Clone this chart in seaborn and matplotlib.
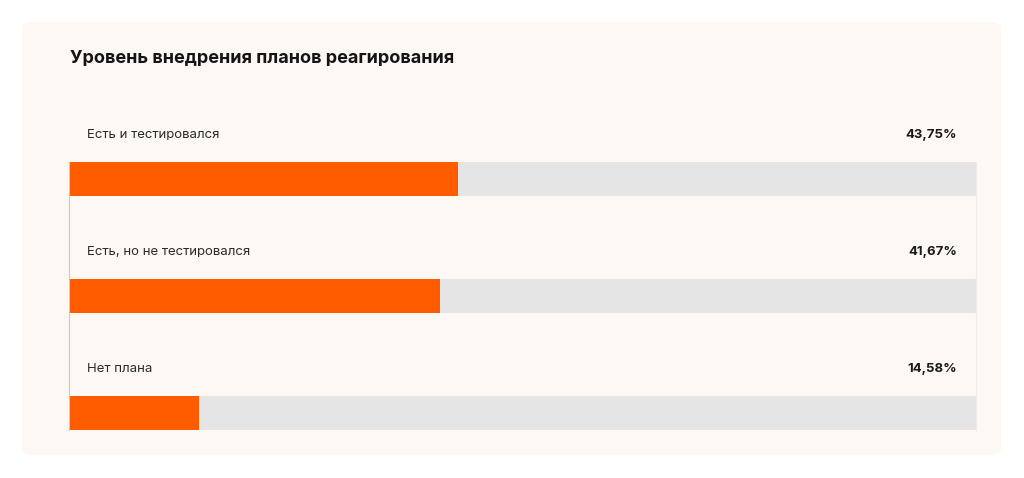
import matplotlib
matplotlib.use("Agg")
import matplotlib.pyplot as plt
import seaborn as sns
import pandas as pd
from matplotlib.patches import FancyBboxPatch

# response plan adoption
title = "Уровень внедрения планов реагирования"
categories = ["Есть и тестировался", "Есть, но не тестировался", "Нет плана"]
shares = [43.75, 41.67, 14.58]
share_labels = ["43,75%", "41,67%", "14,58%"]
scale_max = 102  # the grey track runs a bit past 100 in the original

sns.set_theme(style="white")
plt.rcParams["font.family"] = ["Inter", "DejaVu Sans"]

orange = "#ff5c00"
track_grey = "#e5e5e5"
card_bg = "#fdf8f4"

df = pd.DataFrame({"category": categories, "share": shares,
                   "track": [scale_max] * len(categories)})

fig = plt.figure(figsize=(10.24, 4.78), dpi=100)
fig.patch.set_facecolor("white")

# beige card behind everything
card = FancyBboxPatch((22 / 1024, 1 - 455 / 478), 979 / 1024, 433 / 478,
                      boxstyle="round,pad=0,rounding_size=0.012",
                      transform=fig.transFigure, facecolor=card_bg,
                      edgecolor="none", zorder=-5)
fig.patches.append(card)

ax = fig.add_axes([69 / 1024, 1 - 430 / 478, 907 / 1024, 268 / 478])
ax.set_facecolor("none")
ax.set_zorder(2)

sns.barplot(data=df, x="track", y="category", orient="h", color=track_grey,
            width=0.29, saturation=1, linewidth=0, ax=ax)
sns.barplot(data=df, x="share", y="category", orient="h", color=orange,
            width=0.29, saturation=1, linewidth=0, ax=ax)

ax.set_xlim(0, scale_max)
ax.set_ylim(len(categories) - 1 + 0.145, -0.145)
ax.set_xticks([])
ax.set_yticks([])
ax.set_xlabel("")
ax.set_ylabel("")
for side in ["top", "bottom"]:
    ax.spines[side].set_visible(False)
ax.spines["left"].set_color("#c8c8c8")
ax.spines["left"].set_linewidth(0.8)
ax.spines["right"].set_color("#eeeae6")
ax.spines["right"].set_linewidth(0.8)

# category names above the bars, percentages on the right
for i, (cat, lab) in enumerate(zip(categories, share_labels)):
    ax.text(0.02, i - 0.375, cat, transform=ax.get_yaxis_transform(),
            ha="left", va="center", fontsize=9.5, color="#2b2b2b")
    ax.text(0.979, i - 0.375, lab, transform=ax.get_yaxis_transform(),
            ha="right", va="center", fontsize=9.5, fontweight="bold",
            color="#1a1a1a")

fig.text(70 / 1024, 1 - 58 / 478, title, ha="left", va="center",
         fontsize=13, fontweight="bold", color="#141414")

fig.savefig("out.png", dpi=100, facecolor="white")
